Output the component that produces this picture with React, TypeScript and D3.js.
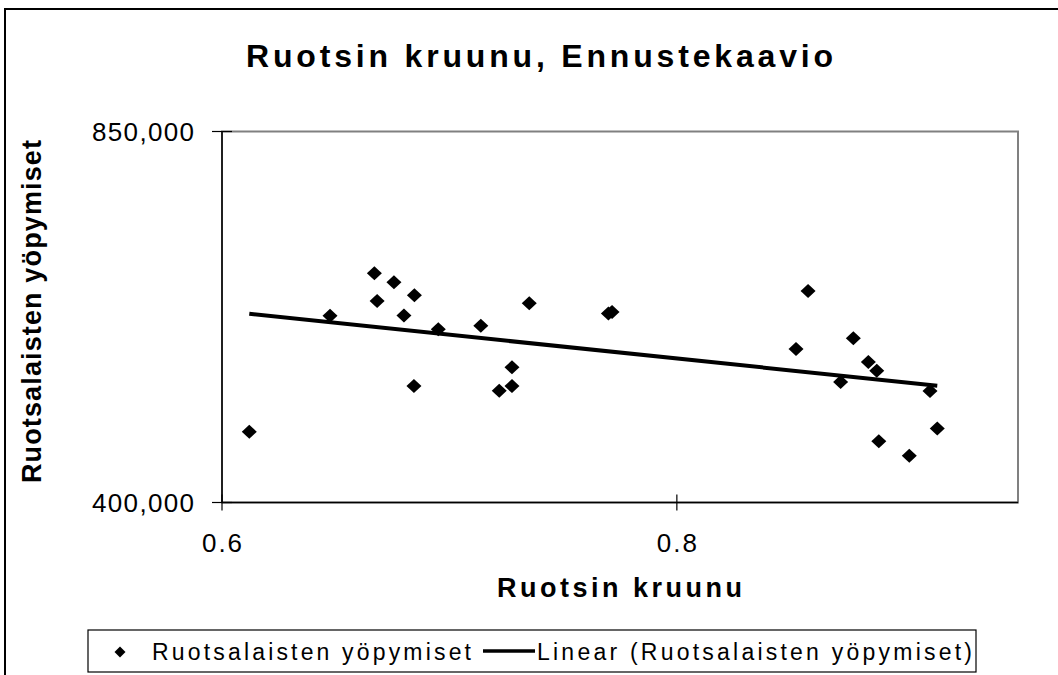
import React from "react";
import * as d3 from "d3";

const xValues = [
  0.612, 0.6475, 0.667, 0.6682, 0.6756, 0.68, 0.6846, 0.6844, 0.6951, 0.7138,
  0.7219, 0.7275, 0.7275, 0.7351, 0.7699, 0.7715, 0.8524, 0.8577, 0.872, 0.8776,
  0.8842, 0.8879, 0.8888, 0.9022, 0.9113, 0.9145,
];
const yValues = [
  485700, 626600, 678100, 644400, 667100, 626800, 651500, 541200, 610100, 614400,
  535500, 541200, 563900, 641600, 629300, 631100, 586200, 656600, 546100, 599100,
  570400, 559800, 474400, 456600, 535200, 489900,
];
const xTicks = [0.6, 0.8];
const yTicks = [400000, 850000];
const xDomain = [0.6, 0.95];
const yDomain = [400000, 850000];

const title = "Ruotsin kruunu, Ennustekaavio";
const xTitle = "Ruotsin kruunu";
const yTitle = "Ruotsalaisten yöpymiset";
const seriesName = "Ruotsalaisten yöpymiset";
const trendName = "Linear (Ruotsalaisten yöpymiset)";

const FONT = "'Liberation Sans', Arial, sans-serif";

export default function App() {
  const L = 222, T = 131.5, R = 1018, B = 502.5;
  const x = d3.scaleLinear().domain(xDomain).range([L, R]);
  const y = d3.scaleLinear().domain(yDomain).range([B, T]);

  const pts = xValues.map((v, i) => ({ x: v, y: yValues[i] }));
  const mx = d3.mean(xValues) as number;
  const my = d3.mean(yValues) as number;
  let sxy = 0, sxx = 0;
  pts.forEach((p) => { sxy += (p.x - mx) * (p.y - my); sxx += (p.x - mx) * (p.x - mx); });
  const slope = sxy / sxx;
  const icpt = my - slope * mx;
  const [x0, x1] = d3.extent(xValues) as [number, number];
  const trend = [x0, x1].map((v) => [v, icpt + slope * v] as [number, number]);
  const lineGen = d3.line<[number, number]>().x((d) => x(d[0])).y((d) => y(d[1]));

  const fmt = d3.format(",");
  const diamond = (cx: number, cy: number, w = 7.5, h = 7) =>
    `M${cx},${cy - h}L${cx + w},${cy}L${cx},${cy + h}L${cx - w},${cy}Z`;

  return (
    <svg width={1058} height={675} style={{ position: "absolute", left: 0, top: 0, background: "#fff" }}>
      <rect x={0} y={0} width={1058} height={675} fill="#fff" />
      {/* chart border */}
      <rect x={5} y={9} width={1100} height={700} fill="none" stroke="#000" strokeWidth={2} />
      {/* title */}
      <text x={246} y={67} fontFamily={FONT} fontWeight="bold" fontSize={32} textLength={587} lengthAdjust="spacing">{title}</text>
      {/* plot area frame */}
      <rect x={L} y={T} width={R - L} height={B - T} fill="none" stroke="#808080" strokeWidth={2} />
      <line x1={L} x2={L} y1={T} y2={B} stroke="#000" strokeWidth={1.5} />
      <line x1={L} x2={R} y1={B} y2={B} stroke="#000" strokeWidth={1.5} />
      {/* y ticks */}
      {yTicks.map((t) => (
        <g key={t}>
          <line x1={L - 10} x2={L + 10} y1={y(t)} y2={y(t)} stroke="#000" strokeWidth={1.2} />
          <text x={194} y={y(t) + 9} textAnchor="end" fontFamily={FONT} fontSize={26} textLength={102} lengthAdjust="spacing">{fmt(t)}</text>
        </g>
      ))}
      {/* x ticks */}
      {xTicks.map((t) => (
        <g key={t}>
          <line x1={x(t)} x2={x(t)} y1={B - 8} y2={B + 8} stroke="#000" strokeWidth={1.2} />
          <text x={x(t)} y={552} textAnchor="middle" fontFamily={FONT} fontSize={26} textLength={40} lengthAdjust="spacing">{String(t)}</text>
        </g>
      ))}
      {/* axis titles */}
      <text x={497} y={597} fontFamily={FONT} fontWeight="bold" fontSize={27} textLength={245} lengthAdjust="spacing">{xTitle}</text>
      <text transform={`translate(41,483) rotate(-90)`} fontFamily={FONT} fontWeight="bold" fontSize={27} textLength={343} lengthAdjust="spacing">{yTitle}</text>
      {/* trend line */}
      <path d={lineGen(trend) || ""} fill="none" stroke="#000" strokeWidth={4} />
      {/* points */}
      {pts.map((p, i) => (
        <path key={i} d={diamond(x(p.x), y(p.y))} fill="#000" />
      ))}
      {/* legend */}
      <rect x={88} y={630} width={888} height={42} fill="#fff" stroke="#000" strokeWidth={1.2} />
      <path d={diamond(120, 652, 5.5, 5.5)} fill="#000" />
      <text x={152} y={660} fontFamily={FONT} fontSize={23} textLength={319} lengthAdjust="spacing">{seriesName}</text>
      <line x1={483} x2={535} y1={651} y2={651} stroke="#000" strokeWidth={3.5} />
      <text x={537} y={660} fontFamily={FONT} fontSize={23} textLength={435} lengthAdjust="spacing">{trendName}</text>
    </svg>
  );
}
